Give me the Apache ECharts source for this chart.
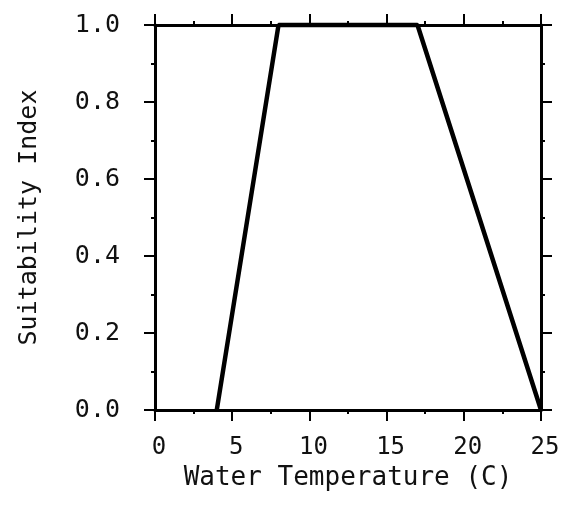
<!DOCTYPE html>
<html>
<head>
<meta charset="utf-8">
<script src="https://cdn.jsdelivr.net/npm/echarts@6/dist/echarts.min.js"></script>
<style>
html,body{margin:0;padding:0;background:#fff;}
#chart{width:582px;height:520px;}
</style>
</head>
<body>
<div id="chart"></div>
<script>
var temperature = [4, 8, 17, 25];
var suitability = [0, 1, 1, 0];
var xTicks = [0, 5, 10, 15, 20, 25];
var yTicks = [0.0, 0.2, 0.4, 0.6, 0.8, 1.0];

var FONT = 'DejaVu Sans Mono';
var axisLine = {show: true, onZero: false, lineStyle: {color: '#000', width: 3}};
var majorTick = {show: true, inside: false, length: 11, lineStyle: {color: '#000', width: 2}};
var minorTick = {show: true, splitNumber: 2, length: 4, lineStyle: {color: '#000', width: 2}};

var chart = echarts.init(document.getElementById('chart'));
chart.setOption({
  animation: false,
  backgroundColor: '#fff',
  grid: {left: 155, right: 41, top: 25, bottom: 110, containLabel: false},
  xAxis: [{
    type: 'value', position: 'bottom', min: xTicks[0], max: xTicks[xTicks.length-1], interval: 5,
    axisLine: axisLine, axisTick: majorTick, minorTick: minorTick,
    splitLine: {show: false},
    axisLabel: {color: '#111', fontFamily: FONT, fontSize: 24, margin: 26, padding: [0, 0, 0, 8]},
    name: 'Water Temperature (C)', nameLocation: 'middle', nameGap: 53,
    nameTextStyle: {color: '#111', fontFamily: FONT, fontSize: 26}
  }, {
    type: 'value', position: 'top', min: xTicks[0], max: xTicks[xTicks.length-1], interval: 5,
    axisLine: axisLine, axisTick: majorTick, minorTick: minorTick,
    splitLine: {show: false}, axisLabel: {show: false}
  }],
  yAxis: [{
    type: 'value', position: 'left', min: yTicks[0], max: yTicks[yTicks.length-1], interval: 0.2,
    axisLine: axisLine, axisTick: majorTick, minorTick: minorTick,
    splitLine: {show: false},
    axisLabel: {color: '#111', fontFamily: FONT, fontSize: 25, margin: 35,
      formatter: function (v) { return v.toFixed(1); }},
    name: 'Suitability Index', nameLocation: 'middle', nameGap: 113,
    nameTextStyle: {color: '#111', fontFamily: FONT, fontSize: 25}
  }, {
    type: 'value', position: 'right', min: yTicks[0], max: yTicks[yTicks.length-1], interval: 0.2,
    axisLine: axisLine, axisTick: majorTick, minorTick: minorTick,
    splitLine: {show: false}, axisLabel: {show: false}
  }],
  series: [{
    type: 'line',
    xAxisIndex: 0, yAxisIndex: 0,
    data: temperature.map(function (t, i) { return [t, suitability[i]]; }),
    showSymbol: false,
    lineStyle: {color: '#000', width: 4.5},
    clip: false
  }]
});
</script>
</body>
</html>
